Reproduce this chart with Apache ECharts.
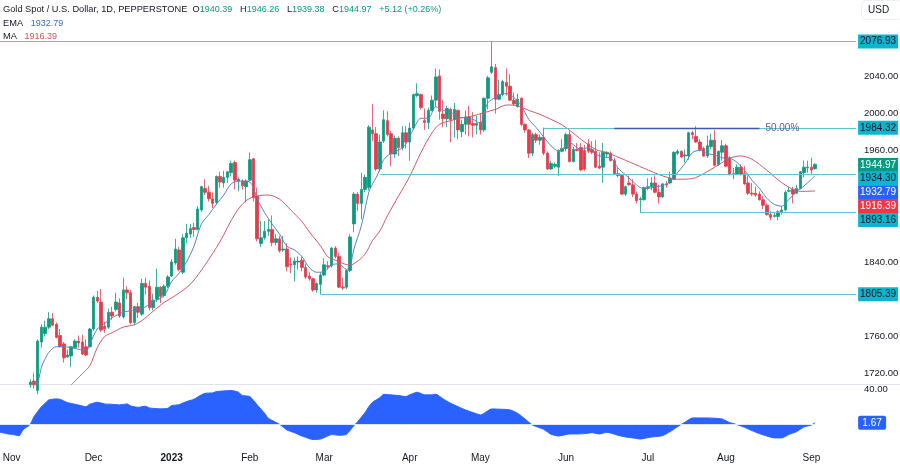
<!DOCTYPE html>
<html>
<head>
<meta charset="utf-8">
<style>
  html, body { margin: 0; padding: 0; background: #fff; }
  #chart { width: 900px; height: 465px; }
</style>
<script src="https://cdn.jsdelivr.net/npm/echarts@6/dist/echarts.min.js"></script>
</head>
<body>
<div id="chart"></div>
<script>
// daily bars, index 0 is 1 Nov 2022, the first 5 sit below the visible range
var firstBar = 5;
var opens = [
  1708,1712,1702,1754,1763,1770,1779,1773,1761,1752,
  1738,1739,1748,1755,1754,1749,1749,1768,1802,1797,
  1771,1770,1786,1789,1796,1781,1810,1807,1775,1792,
  1784,1817,1814,1791,1800,1813,1804,1814,1825,1839,
  1853,1829,1866,1870,1877,1875,1896,1919,1915,1908,
  1904,1932,1925,1931,1936,1947,1927,1927,1921,1928,
  1951,1911,1860,1866,1873,1875,1861,1865,1853,1854,
  1838,1837,1840,1842,1834,1825,1822,1810,1816,1826,
  1836,1836,1855,1846,1813,1813,1831,1881,1913,1903,
  1918,1920,1982,1978,1940,1970,1992,1978,1956,1973,
  1963,1979,1969,1984,2019,2020,1992,1990,2003,2014,
  2040,1999,1994,2004,1993,2003,1980,1988,1996,1989,
  1987,1990,1982,2016,2044,2049,2015,2020,2033,2029,
  2014,2007,2016,1988,1982,1957,1977,1971,1974,1957,
  1940,1943,1942,1959,1962,1977,1948,1961,1963,1960,
  1967,1961,1959,1943,1942,1956,1957,1949,1935,1933,
  1913,1925,1923,1913,1907,1907,1920,1921,1925,1915,
  1910,1924,1925,1929,1957,1959,1954,1954,1979,1975,
  1969,1962,1954,1964,1971,1945,1958,1965,1952,1934,
  1934,1942,1935,1925,1914,1914,1913,1907,1901,1891,
  1889,1889,1894,1896,1916,1918,1914,1919,1936,1941,
  1942,1940.39
];
var closes = [
  1711,1708,1755,1770,1770,1779,1772,1759,1749,1737,
  1740,1749,1755,1753,1741,1740,1768,1802,1798,1767,
  1768,1786,1782,1797,1782,1810,1807,1775,1792,1786,
  1817,1813,1791,1799,1813,1803,1814,1824,1840,1854,
  1832,1866,1871,1876,1875,1897,1921,1915,1908,1903,
  1932,1926,1931,1937,1946,1928,1929,1922,1927,1950,
  1909,1865,1866,1873,1875,1861,1865,1852,1854,1835,
  1837,1841,1841,1834,1824,1822,1810,1817,1826,1837,
  1835,1855,1846,1813,1812,1831,1867,1913,1903,1918,
  1931,1985,1978,1940,1969,1993,1977,1956,1973,1963,
  1979,1969,1984,2020,2021,2006,1990,2003,2014,2039,
  2002,1994,2005,1993,2004,1982,1988,1996,1988,1987,
  1989,1982,2016,2038,2050,2015,2020,2034,2029,2014,
  2010,2015,1988,1982,1957,1977,1971,1974,1957,1940,
  1946,1945,1959,1962,1977,1948,1961,1960,1939,1940,
  1959,1958,1942,1941,1958,1958,1949,1935,1933,1913,
  1921,1923,1913,1906,1908,1920,1921,1925,1915,1910,
  1924,1923,1930,1958,1959,1953,1955,1979,1977,1969,
  1961,1954,1965,1971,1944,1959,1965,1943,1934,1935,
  1942,1934,1924,1914,1913,1912,1907,1901,1891,1888,
  1890,1894,1896,1915,1917,1913,1919,1937,1942,1942,
  1939,1944.97
];
var lows = [
  1705,1704,1698,1748,1760,1768,1771,1758,1748,1732,
  1737,1727,1747,1748,1740,1739,1748,1766,1796,1765,
  1764,1768,1778,1787,1780,1779,1800,1773,1772,1780,
  1782,1805,1788,1788,1797,1796,1802,1812,1824,1837,
  1830,1827,1860,1866,1867,1874,1894,1912,1905,1898,
  1902,1920,1920,1925,1932,1918,1916,1918,1904,1927,
  1905,1862,1856,1864,1868,1857,1858,1850,1851,1830,
  1828,1819,1832,1830,1822,1820,1808,1807,1805.39,1825,
  1832,1834,1844,1812,1810,1811,1829,1872,1895,1886,
  1915,1917,1970,1938,1937,1968,1975,1943,1952,1954,
  1960,1962,1949,1982,2017,2004,1982,1983,2002,2007,
  1993,1985,1985,1969,1974,1972,1974,1977,1975,1974,
  1977,1977,1980,2004,2042,1999.5,2014,2018,2019,2013,
  2008,2006,1986,1979,1952,1954,1968,1966,1955,1939,
  1939,1941,1932.6,1958,1959,1947,1947,1959,1938,1938,
  1957,1956,1941,1940,1925,1952,1948,1934,1931,1912,
  1911,1922,1910,1903,1893.16,1906,1917,1917,1914,1903,
  1909,1920,1924,1928,1955,1952,1947,1950,1972,1968,
  1959,1953,1952,1961,1943,1943,1949,1942,1933,1929,
  1934,1933,1923,1912,1911,1910,1906,1897,1890,1885,
  1888,1885,1891,1895,1915,1903,1913,1918,1931,1936,
  1934,1939.38
];
var highs = [
  1714,1721,1757,1773,1777,1786,1785,1775,1768,1754,
  1746,1750,1757,1761,1762,1757,1769,1804,1809,1811,
  1776,1790,1792,1807,1801,1823,1814,1810,1793,1796,
  1822,1823,1820,1806,1833,1814,1816,1826,1843,1865,
  1856,1870,1881,1881,1882,1900,1922,1929,1922,1915,
  1933,1937,1938,1938,1949,1949,1931,1929,1929,1958,
  1952,1920,1884,1884,1886,1890,1870,1868,1868,1860,
  1845,1845,1846,1846,1838,1829,1823,1818,1829,1844,
  1841,1856,1857,1850,1823,1832,1870,1915,1915,1936,
  1934,1987,2010,1985,1977,2003,2002,1981,1976,1975,
  1986,1986,1990,2021,2032,2021,2005,2006,2019,2048,
  2047,2014,2008,2006,2011,2004,1993,2003,2008,2001,
  1997,2000,2017,2040,2076.93,2053,2036,2036,2048,2042,
  2022,2021,2017,1989,1983,1979,1979,1977,1984.5,1959,
  1949,1947,1961,1972,1979,1981,1964,1968,1968,1966,
  1972,1970,1971,1958,1968,1959,1959,1952,1941,1934,
  1922,1933,1929,1916,1910,1921,1930,1931,1933,1923,
  1925,1927,1937,1959,1961,1960,1961,1980,1981,1986,
  1972,1964,1976,1978,1982,1960,1971,1967,1954,1941,
  1945,1945,1943,1933,1925,1921,1916,1911,1903,1895,
  1893,1896,1900,1917,1921,1921,1923,1938,1949,1949,
  1952,1946.26
];

var emaBars = [7,8,9,10,12,14,17,20,21,23,25,27,30,35,38,41,43,45,47,49,51,53,55,57,59,61,63,64,65,66,68,70,72,74,76,78,80,82,84,86,88,90,91,92,94,96,97,98,99,100,102,104,106,108,110,112,114,116,118,120,122,124,126,127,128,130,132,134,136,137,139,141,143,145,147,149,150,153,155,157,159,161,163,165,167,169,171,173,175,177,179,181,183,185,187,189,191,193,195,197,199,201,203,205,207,209,211,213,215,216];
var emaValues = [1708,1727,1736,1743,1749,1749,1747,1745,1752,1768,1774,1780,1786,1790,1797,1804,1819,1828,1840,1857,1881,1891,1902,1912,1924,1927,1927,1926,1920,1908,1893,1881,1870,1857,1853,1846,1834,1829,1829.5,1837,1838,1832,1836,1854,1879,1915,1924,1931,1940,1950,1957,1960,1967,1983,1994.5,1994.5,2007,2003,2001,1996,1995,1993.4,1989,2000,2011,2017,2021,2020,2013,2008,1993.4,1984.5,1974.5,1965,1959.4,1965,1968,1961.2,1963,1956,1953,1952,1941,1933.7,1926.5,1920,1919,1921,1922,1926.5,1936,1946,1957.6,1960,1956.6,1955,1952,1951.6,1947,1938.7,1928,1919.3,1908.6,1902,1900,1907.5,1915.8,1921.8,1929,1932.79];
var maBars = [16,19,21,23,25,27,30,33,35,38,41,44,48,52,56,60,63,66,69,72,75,78,80,83,85,87,89,91,93,95,97,99,101,104,107,110,113,115,118,121,124,127,130,133,136,139,142,145,148,150,153,157,160,165,170,175,179,183,186,190,193,196,199,203,207,211,213,216];
var maValues = [1708,1720,1728.5,1748,1760,1764,1770,1772.6,1777,1787,1796.6,1804,1816,1837,1862,1891.5,1906,1911,1912,1907.6,1896,1883.6,1872.5,1857.5,1845.6,1842,1838.5,1836.7,1841,1848.5,1863,1873.6,1889.7,1911,1932,1957.6,1979,1988,1992,1995,1997,2000.6,2004,2008.8,2008,2003,1998.8,1993.4,1987.3,1981.6,1972,1961,1957.6,1949.4,1940.8,1932.6,1929,1929.7,1935,1944.4,1951.6,1954,1950.5,1938.7,1925.4,1916.5,1916,1916.39];

var macdBars = [-4,-3,-1,0,2,3,5,6,8,9,10,12,13,15,17,19,20,21,23,25,27,29,31,32,34,36,37,40,42,43,45,47,49,51,52,54,55,57,59,61,62,64,66,68,69,72,74,76,78,79,81,83,84,86,88,90,92,93,95,96,97,99,100,102,104,106,107,109,111,113,114,116,118,120,122,124,126,127,129,132,134,136,138,140,143,145,147,150,152,154,156,158,160,163,165,167,169,171,173,175,177,179,181,183,185,187,189,191,193,195,197,199,201,203,205,207,209,211,213,215,216];
var macdValues = [-8.5,-9.1,-11,-11.4,-12.9,-6.4,0,8.7,20,23.9,27.7,28.8,28.4,24.6,22.7,20.8,20,22.7,25,23.1,22.7,22,23.1,20.8,19.3,20.5,18.6,17.5,18.2,21.2,22.3,25.8,28.4,33.4,35.2,35.6,37.1,37.9,38.3,36.4,32.6,31.5,22,12.5,6.8,0,-6.4,-9.5,-13.3,-14.8,-17.4,-16.7,-15.2,-11.7,-12.5,-11.4,-1.5,3,13.3,20,25,30.3,34,33.4,32.6,31.5,33.4,36.4,33.4,33.4,34.1,28.8,23.9,20,16.3,13.3,10.6,12.5,17.4,17,16.3,12.5,6,-0.8,-5.7,-11.4,-13.3,-11,-11,-10.6,-9.5,-11,-9.1,-12.5,-14.4,-15.5,-16.7,-15.2,-14,-12.9,-8.3,-2.7,2.3,7.2,7.2,7.2,6.8,6,1.9,-0.4,-3.4,-7.2,-10.6,-13.3,-15.5,-15.5,-11.4,-8.3,-3,-0.8,1.67];

// tick labels
var priceTicks = [2040, 2000, 1960, 1840, 1760, 1720];
var macdTicks = [40];
var monthBars = [0, 22, 43, 64, 84, 107, 126, 149, 171, 192, 215];
var monthNames = ['Nov', 'Dec', '2023', 'Feb', 'Mar', 'Apr', 'May', 'Jun', 'Jul', 'Aug', 'Sep'];

// horizontal levels: price and the bar where each one starts
var levelValues = [2076.93, 1984.32, 1934.30, 1893.16, 1805.39];
var levelStarts = [-4, 143, 99, 169, 83];
var fibValue = 1984.32;
var fibBars = [162, 201];

// price tags on the scale: value, background, text colour, shift from the value
var tagValues = [2076.93, 1984.32, 1944.97, 1934.30, 1932.79, 1916.39, 1893.16, 1805.39];
var tagColors = ['#0bb4cf', '#0bb4cf', '#089981', '#0bb4cf', '#2962ff', '#f23645', '#0bb4cf', '#0bb4cf'];
var tagInk = ['#131722', '#131722', '#fff', '#131722', '#fff', '#fff', '#131722', '#131722'];
var tagShift = [0, 0, 0.5, 4, 16.5, 15, 7.5, 0];

var lead = 4, trail = 11, barCount = firstBar + opens.length;
var categories = [];
for (var n = 0; n < lead + barCount + trail; n++) categories.push(String(n - lead));
var lastCat = categories.length - 1;

var candles = [];
for (var k = 0; k < lead + firstBar; k++) candles.push('-');
for (var j = 0; j < opens.length; j++) candles.push([opens[j], closes[j], lows[j], highs[j]]);

function pairs(bars, values) {
  return bars.map(function (b, idx) { return [b + lead, values[idx]]; });
}

var levelLines = levelValues.map(function (v, idx) {
  return [{ coord: [levelStarts[idx] + lead, v] }, { coord: [lastCat, v] }];
});
levelLines.push([
  {
    coord: [fibBars[0] + lead, fibValue],
    lineStyle: { color: '#3f5aa8', width: 1.4 },
    label: { show: true, position: 'end', formatter: '50.00%', color: '#5a5ca8', fontSize: 10, distance: 6, fontFamily: 'Liberation Sans' }
  },
  { coord: [fibBars[1] + lead, fibValue] }
]);

var font = 'Liberation Sans';
var green = '#0f9a80', red = '#e23d4d';

var chart = echarts.init(document.getElementById('chart'));
chart.setOption({
  animation: false,
  backgroundColor: '#fff',
  textStyle: { fontFamily: font },
  title: [{
    left: 3, top: 5, padding: 0,
    text: 'Gold Spot / U.S. Dollar, 1D, PEPPERSTONE  O{v|1940.39}   H{v|1946.26}   L{v|1939.38}   C{v|1944.97}   {v|+5.12 (+0.26%)}',
    textStyle: { fontSize: 9.25, fontWeight: 'normal', color: '#131722', fontFamily: font, rich: { v: { color: '#089981', fontSize: 9, fontFamily: font } } }
  }, {
    left: 3, top: 19, padding: 0,
    text: 'EMA   {v|1932.79}',
    textStyle: { fontSize: 9.25, fontWeight: 'normal', color: '#131722', fontFamily: font, rich: { v: { color: '#3a6fc4', fontSize: 9, fontFamily: font } } }
  }, {
    left: 3, top: 32, padding: 0,
    text: 'MA   {v|1916.39}',
    textStyle: { fontSize: 9.25, fontWeight: 'normal', color: '#131722', fontFamily: font, rich: { v: { color: '#d0505f', fontSize: 9, fontFamily: font } } }
  }, {
    left: 861, top: 0, padding: [5, 14, 5, 7],
    text: 'USD', borderColor: '#eeeff2', borderWidth: 1, borderRadius: 5,
    textStyle: { fontSize: 10, fontWeight: 'normal', color: '#131722', fontFamily: font }
  }],
  graphic: [{
    type: 'line', silent: true,
    shape: { x1: 0, y1: 384.5, x2: 900, y2: 384.5 },
    style: { stroke: '#e0e3eb', lineWidth: 1 }
  }],
  grid: [
    { left: -5.04, top: 1, width: 863, height: 384, outerBoundsMode: 'none' },
    { left: -5.04, top: 385, width: 863, height: 59, outerBoundsMode: 'none' }
  ],
  xAxis: [{
    type: 'category', gridIndex: 0, data: categories,
    axisLine: { show: false }, axisTick: { show: false }, axisLabel: { show: false }, splitLine: { show: false }
  }, {
    type: 'category', gridIndex: 1, data: categories,
    axisLine: { show: false }, axisTick: { show: false }, splitLine: { show: false },
    axisLabel: {
      color: '#131722', fontSize: 10, margin: 9, hideOverlap: false,
      interval: function (index) { return monthBars.indexOf(index - lead) >= 0; },
      formatter: function (value, index) {
        var name = monthNames[monthBars.indexOf(index - lead)];
        return name === '2023' ? '{b|2023}' : name;
      },
      rich: { b: { fontWeight: 'bold', fontSize: 10, color: '#131722' } }
    }
  }],
  yAxis: [{
    type: 'value', gridIndex: 0, position: 'right', min: 1707.8, max: 2120.6,
    axisLine: { show: false }, axisTick: { show: false }, splitLine: { show: false },
    axisLabel: {
      customValues: priceTicks, color: '#131722', fontSize: 9.5, margin: 6,
      formatter: function (v) { return v.toFixed(2); }
    }
  }, {
    type: 'value', gridIndex: 1, position: 'right', min: -22.4, max: 44.6,
    axisLine: { show: false }, axisTick: { show: false }, splitLine: { show: false },
    axisLabel: {
      customValues: macdTicks, color: '#131722', fontSize: 9.5, margin: 6,
      formatter: function (v) { return v.toFixed(2); }
    }
  }],
  series: [{
    // level lines go under the bars
    name: 'levels', type: 'line', data: [], z: 1, silent: true,
    markLine: {
      silent: true, symbol: 'none', animation: false,
      label: { show: false },
      lineStyle: { color: '#62c3cc', width: 1.2, type: 'solid' },
      data: levelLines
    }
  }, {
    name: 'Gold', type: 'candlestick', data: candles, z: 2,
    barWidth: 3,
    itemStyle: { color: green, color0: red, borderColor: green, borderColor0: red, borderWidth: 0.8 }
  }, {
    name: 'EMA', type: 'line', data: pairs(emaBars, emaValues), z: 3, showSymbol: false, smooth: 0.3,
    lineStyle: { color: '#5b80c0', width: 1 }
  }, {
    name: 'MA', type: 'line', data: pairs(maBars, maValues), z: 3, showSymbol: false, smooth: 0.3,
    lineStyle: { color: '#cc5a68', width: 1 }
  }, {
    name: 'tags', type: 'scatter', symbolSize: 1, z: 5, silent: true, clip: false,
    itemStyle: { color: 'transparent', opacity: 1 },
    data: tagValues.map(function (v, idx) {
      return {
        value: [lastCat, v],
        label: {
          show: true, position: 'right', distance: 0, offset: [21.5, tagShift[idx]],
          formatter: v.toFixed(2), color: tagInk[idx], backgroundColor: tagColors[idx],
          fontSize: 10, width: 40, height: 14, lineHeight: 14, align: 'center', verticalAlign: 'middle'
        }
      };
    })
  }, {
    name: 'MACD', type: 'line', xAxisIndex: 1, yAxisIndex: 1, data: pairs(macdBars, macdValues),
    showSymbol: false, smooth: 0.2,
    lineStyle: { color: '#2962ff', width: 1 },
    areaStyle: { color: '#2962ff', opacity: 1, origin: 0 },
    markLine: {
      silent: true, symbol: 'none', animation: false, label: { show: false },
      lineStyle: { color: '#dfe6ff', width: 1, type: 'solid' },
      data: [[{ coord: [macdBars[0] + lead, 0] }, { coord: [macdBars[macdBars.length - 1] + lead, 0] }]]
    }
  }, {
    name: 'macdTag', type: 'scatter', xAxisIndex: 1, yAxisIndex: 1, symbolSize: 1, z: 5, silent: true, clip: false,
    itemStyle: { color: 'transparent', opacity: 1 },
    data: [{
      value: [lastCat, 1.67],
      label: {
        show: true, position: 'right', distance: 0, offset: [15.5, 0], formatter: '1.67', color: '#fff', backgroundColor: '#2962ff',
        fontSize: 10, width: 28, height: 14, lineHeight: 14, align: 'center', verticalAlign: 'middle', borderRadius: 2
      }
    }]
  }]
});
</script>
</body>
</html>
